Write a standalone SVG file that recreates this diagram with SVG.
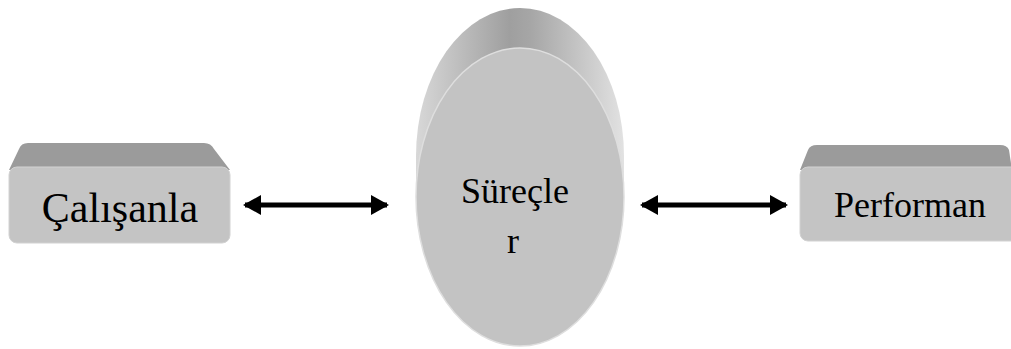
<svg xmlns="http://www.w3.org/2000/svg" width="1011" height="349" viewBox="0 0 1011 349">
  <style>
    .top { fill: #9b9b9b; }
    .front { fill: #c4c4c4; stroke: #d2d2d2; stroke-width: 1; }
    .lbl { font-family: "Liberation Serif", "Times New Roman", serif; fill: #000; text-anchor: middle; }
    .conn { stroke: #000; stroke-width: 5; fill: none; }
  </style>
  <defs>
    <linearGradient id="backGrad" x1="0" y1="0" x2="1" y2="0">
      <stop offset="0" stop-color="#d8d8d8"/>
      <stop offset="0.45" stop-color="#9f9f9f"/>
      <stop offset="0.55" stop-color="#a6a6a6"/>
      <stop offset="1" stop-color="#e2e2e2"/>
    </linearGradient>
    <marker id="ah" viewBox="0 0 18 20" refX="16" refY="10" markerWidth="18" markerHeight="20" markerUnits="userSpaceOnUse" orient="auto-start-reverse">
      <path d="M0 0 L18 10 L0 20 Z" fill="#000"/>
    </marker>
  </defs>
  <rect width="1011" height="349" fill="#fff"/>

  <g id="node-calisanla">
    <path class="top" d="M9 170 L19 149 Q21 143 28 143 L204 143 Q211 143 214 149 L230 170 Z"/>
    <rect class="front" x="9" y="167" width="221" height="76" rx="8"/>
    <text class="lbl" x="120" y="222" font-size="42">Çalışanla</text>
  </g>

  <g id="node-surecler">
    <ellipse cx="520" cy="156" rx="104" ry="148" fill="url(#backGrad)"/>
    <rect x="416" y="156" width="208" height="42" fill="url(#backGrad)"/>
    <ellipse cx="520" cy="197" rx="104" ry="149" fill="#c3c3c3" stroke="#dedede" stroke-width="1.5"/>
    <text class="lbl" x="515" y="203" font-size="36">Süreçle</text>
    <text class="lbl" x="513" y="253" font-size="36">r</text>
  </g>

  <g id="node-performan">
    <path class="top" d="M800 170 L808 150 Q810 145 817 145 L1000 145 Q1007 145 1009 150 L1012 170 Z"/>
    <rect class="front" x="800" y="167" width="220" height="74" rx="8"/>
    <text class="lbl" x="910" y="217" font-size="36">Performan</text>
  </g>

  <g id="connectors">
    <line class="conn" x1="245" y1="205" x2="387" y2="205" marker-start="url(#ah)" marker-end="url(#ah)"/>
    <line class="conn" x1="642" y1="205" x2="786" y2="205" marker-start="url(#ah)" marker-end="url(#ah)"/>
  </g>
</svg>
